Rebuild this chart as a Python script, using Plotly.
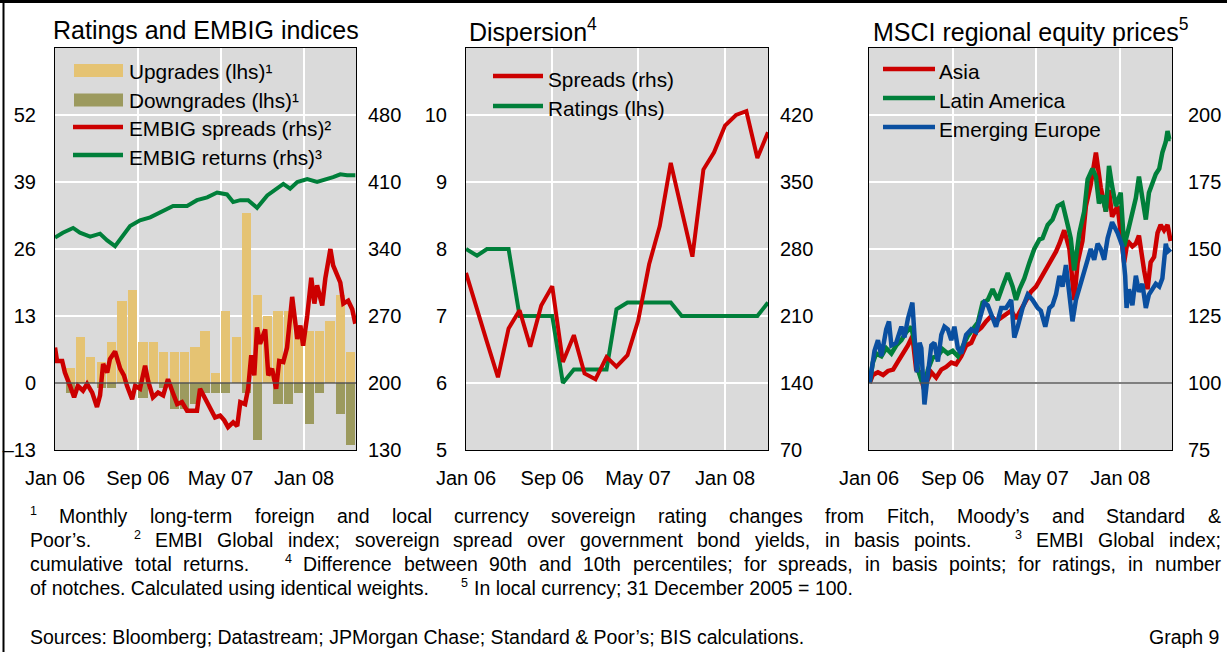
import plotly.graph_objects as go

W, H = 1227, 652
FONT = "Liberation Sans, Arial, sans-serif"
RED = "#CC0000"
GREEN = "#007F3A"
BLUE = "#0A4FA0"
UPC = "#E5C373"
DOWNC = "#9C9A5E"
BG = "#DADADA"

# ---------------- data ----------------
months = ["2006-01", "2006-02", "2006-03", "2006-04", "2006-05", "2006-06", "2006-07", "2006-08",
          "2006-09", "2006-10", "2006-11", "2006-12", "2007-01", "2007-02", "2007-03", "2007-04",
          "2007-05", "2007-06", "2007-07", "2007-08", "2007-09", "2007-10", "2007-11", "2007-12",
          "2008-01", "2008-02", "2008-03", "2008-04", "2008-05"]
upgrades = [0, 3, 9, 5, 4, 8, 16, 18, 8, 8, 6, 6, 6, 7, 10, 2, 14, 9, 33, 17, 13, 14, 14, 11, 10, 10, 12, 17, 6]
downgrades = [0, -2, 0, 0, -1, -1, 0, 0, -3, 0, -1, -5, -5, -4, -2, -2, -2, 0, -2, -11, 0, -4, -4, -2, -8, -2, 0, -6, -12]

spread_dates = ["2006-01-01", "2006-01-07", "2006-01-22", "2006-01-30", "2006-02-14", "2006-02-26", "2006-03-09",
                "2006-03-24", "2006-04-05", "2006-04-20", "2006-05-04", "2006-05-13", "2006-05-22", "2006-06-03",
                "2006-06-11", "2006-06-26", "2006-07-11", "2006-07-22", "2006-07-31", "2006-08-15", "2006-08-24",
                "2006-09-07", "2006-09-22", "2006-10-01", "2006-10-15", "2006-10-30", "2006-11-14", "2006-11-28",
                "2006-12-10", "2006-12-25", "2007-01-08", "2007-01-23", "2007-02-07", "2007-02-21", "2007-03-02",
                "2007-03-17", "2007-04-01", "2007-04-15", "2007-04-30", "2007-05-12", "2007-05-23", "2007-06-07",
                "2007-06-19", "2007-06-28", "2007-07-12", "2007-07-21", "2007-07-30", "2007-08-08", "2007-08-16",
                "2007-08-25", "2007-09-09", "2007-09-18", "2007-09-29", "2007-10-11", "2007-10-20", "2007-11-01",
                "2007-11-12", "2007-11-27", "2007-12-12", "2007-12-21", "2007-12-29", "2008-01-10", "2008-01-22",
                "2008-01-31", "2008-02-08", "2008-02-23", "2008-03-03", "2008-03-12", "2008-03-18", "2008-03-26",
                "2008-04-07", "2008-04-16", "2008-04-25", "2008-05-09", "2008-05-21", "2008-05-30"]
embig_spreads = [237, 223, 223, 211, 197, 185, 197, 192, 199, 190, 175, 187, 220, 211, 225, 233, 215, 208, 197, 183,
                 197, 194, 218, 202, 185, 190, 187, 204, 192, 178, 180, 171, 171, 171, 194, 183, 173, 164, 166, 161,
                 154, 159, 155, 180, 178, 194, 229, 208, 258, 241, 256, 208, 215, 194, 223, 222, 237, 290, 246, 260,
                 239, 270, 310, 283, 302, 281, 309, 331, 340, 323, 312, 305, 283, 286, 277, 262]

return_dates = ["2006-01-01", "2006-01-24", "2006-02-23", "2006-03-15", "2006-04-14", "2006-05-13", "2006-06-03",
                "2006-06-26", "2006-08-09", "2006-09-07", "2006-10-07", "2006-11-14", "2006-12-13", "2007-01-23",
                "2007-02-21", "2007-03-23", "2007-04-21", "2007-05-20", "2007-06-07", "2007-06-28", "2007-07-21",
                "2007-08-16", "2007-09-15", "2007-11-01", "2007-11-21", "2007-12-12", "2008-01-10", "2008-02-08",
                "2008-03-09", "2008-03-26", "2008-04-16", "2008-05-06", "2008-05-30"]
embig_returns = [352, 357, 362, 357, 353, 356, 349, 343, 364, 370, 373, 380, 385, 385, 391, 394, 399, 397, 389, 391,
                 391, 383, 396, 408, 403, 410, 413, 410, 413, 415, 418, 417, 417]

disp_spreads = [255, 216, 183, 146, 197, 216, 178, 221, 241, 162, 190, 150, 144, 167, 157, 169, 205, 264, 304, 370,
                318, 272, 363, 381, 409, 420, 424, 375, 402]
disp_ratings = [8.0, 7.9, 8.0, 8.0, 8.0, 7.0, 7.0, 7.0, 7.0, 6.0, 6.2, 6.2, 6.2, 6.2, 7.1, 7.2, 7.2, 7.2, 7.2, 7.2,
                7.0, 7.0, 7.0, 7.0, 7.0, 7.0, 7.0, 7.0, 7.2]

asia_dates = ["2006-01-03", "2006-01-12", "2006-01-27", "2006-02-11", "2006-02-25", "2006-03-12", "2006-03-26",
              "2006-04-10", "2006-04-24", "2006-05-07", "2006-05-18", "2006-05-28", "2006-06-07", "2006-06-16",
              "2006-07-01", "2006-07-15", "2006-07-30", "2006-08-13", "2006-08-28", "2006-09-11", "2006-09-26",
              "2006-10-10", "2006-10-25", "2006-11-08", "2006-11-23", "2006-12-07", "2006-12-22", "2007-01-05",
              "2007-01-20", "2007-02-03", "2007-02-18", "2007-03-04", "2007-03-18", "2007-04-02", "2007-04-16",
              "2007-05-01", "2007-05-15", "2007-05-30", "2007-06-13", "2007-06-28", "2007-07-08", "2007-07-22",
              "2007-08-06", "2007-08-15", "2007-08-20", "2007-08-30", "2007-09-13", "2007-09-23", "2007-10-07",
              "2007-10-22", "2007-11-05", "2007-11-20", "2007-11-29", "2007-12-08", "2007-12-24", "2008-01-02",
              "2008-01-12", "2008-01-22", "2008-02-05", "2008-02-15", "2008-02-24", "2008-03-10", "2008-03-20",
              "2008-03-29", "2008-04-08", "2008-04-18", "2008-04-27", "2008-05-07", "2008-05-17", "2008-05-26"]
asia = [100, 103, 104, 103, 104.5, 105, 108, 111, 114, 117.5, 105, 104, 99, 100, 104, 102, 105, 106, 107.6, 107,
        110, 114, 115, 119, 120.6, 123, 125, 123, 124.4, 126, 127, 124, 127, 130.6, 134, 136, 139, 142, 145, 149,
        152, 157, 150, 135, 131, 145, 153, 166, 174, 186, 173, 164, 172, 162, 166, 156, 145, 153, 151, 152,
        155, 142, 135, 145, 147, 156, 159, 157, 159, 153]

latam_dates = ["2006-01-03", "2006-01-12", "2006-01-22", "2006-02-06", "2006-02-20", "2006-03-07", "2006-03-21",
               "2006-04-05", "2006-04-19", "2006-05-04", "2006-05-13", "2006-05-23", "2006-06-02", "2006-06-11",
               "2006-06-21", "2006-07-05", "2006-07-20", "2006-08-03", "2006-08-18", "2006-09-01", "2006-09-16",
               "2006-09-30", "2006-10-15", "2006-10-29", "2006-11-13", "2006-11-27", "2006-12-12", "2006-12-26",
               "2007-01-10", "2007-01-24", "2007-02-08", "2007-02-22", "2007-03-04", "2007-03-14", "2007-03-28",
               "2007-04-12", "2007-04-26", "2007-05-11", "2007-05-20", "2007-06-04", "2007-06-18", "2007-07-03",
               "2007-07-17", "2007-08-01", "2007-08-10", "2007-08-20", "2007-09-04", "2007-09-18", "2007-09-28",
               "2007-10-12", "2007-10-22", "2007-10-31", "2007-11-10", "2007-11-20", "2007-11-29", "2007-12-08",
               "2007-12-19", "2008-01-02", "2008-01-12", "2008-01-22", "2008-02-05", "2008-02-15", "2008-02-24",
               "2008-03-05", "2008-03-15", "2008-03-24", "2008-04-03", "2008-04-13", "2008-04-23", "2008-05-02",
               "2008-05-12", "2008-05-17", "2008-05-22", "2008-05-26"]
latam = [100, 107.6, 111, 110, 113, 111, 114, 116, 119, 121, 115, 105, 101, 99, 105, 109.5, 110, 112.6, 111, 112,
         110, 114, 117.5, 120, 122.5, 130, 131, 135, 131, 136, 141, 136, 131, 135, 139, 145, 150, 153.6, 154, 159,
         161, 166, 167, 159, 154, 142, 156, 164, 176, 180, 177, 167, 170, 164, 181, 173.5, 166, 171, 151, 156,
         164, 169, 177, 169, 161, 171, 175, 178, 180, 186, 190, 194, 191, 191]

europe_dates = ["2006-01-03", "2006-01-17", "2006-01-27", "2006-02-06", "2006-02-20", "2006-02-28", "2006-03-07",
                "2006-03-21", "2006-04-05", "2006-04-14", "2006-04-24", "2006-05-07", "2006-05-20", "2006-05-28",
                "2006-06-02", "2006-06-11", "2006-06-18", "2006-07-01", "2006-07-10", "2006-07-20", "2006-07-30",
                "2006-08-08", "2006-08-18", "2006-08-28", "2006-09-06", "2006-09-16", "2006-09-26", "2006-10-10",
                "2006-10-25", "2006-11-08", "2006-11-23", "2006-12-02", "2006-12-12", "2006-12-22", "2007-01-05",
                "2007-01-20", "2007-02-03", "2007-02-18", "2007-02-27", "2007-03-09", "2007-03-23", "2007-04-07",
                "2007-04-21", "2007-05-06", "2007-05-15", "2007-05-28", "2007-06-09", "2007-06-18", "2007-06-28",
                "2007-07-08", "2007-07-17", "2007-07-27", "2007-08-06", "2007-08-15", "2007-08-25", "2007-09-08",
                "2007-09-23", "2007-10-07", "2007-10-17", "2007-10-27", "2007-11-05", "2007-11-15", "2007-11-25",
                "2007-12-08", "2007-12-24", "2008-01-07", "2008-01-15", "2008-01-19", "2008-01-26", "2008-02-05",
                "2008-02-15", "2008-02-24", "2008-03-05", "2008-03-15", "2008-03-24", "2008-04-03", "2008-04-13",
                "2008-04-23", "2008-05-02", "2008-05-12", "2008-05-17", "2008-05-26"]
europe = [100, 112, 116, 110, 120, 123, 114, 115, 121, 117, 124, 130, 104, 115, 113, 92, 100, 114, 115, 108,
          118, 121, 120, 116, 121, 113, 111, 118, 120, 119, 126, 130, 129, 126, 121, 128, 128, 131, 117, 121,
          128, 133, 131, 128, 127, 121, 128, 129, 133, 140, 136, 144, 133, 123, 131, 137, 144, 150, 146, 152,
          150, 146, 154, 160, 156, 151, 140, 128, 135, 129, 140, 134, 137, 128, 133, 135, 137, 136, 139, 152,
          149, 150]

date_ticks = ["2006-01-01", "2006-09-01", "2007-05-01", "2008-01-01"]
date_labels = ["Jan 06", "Sep 06", "May 07", "Jan 08"]
p1_left_ticks = [-13, 0, 13, 26, 39, 52]
p1_left_labels = ["\u201313", "0", "13", "26", "39", "52"]
p1_right_ticks = [130, 200, 270, 340, 410, 480]
p2_left_ticks = [5, 6, 7, 8, 9, 10]
p2_right_ticks = [70, 140, 210, 280, 350, 420]
p3_ticks = [75, 100, 125, 150, 175, 200]


# ---------------- helpers (layout only) ----------------
def fx(x):
    return x / W


def fy(y):
    return 1 - y / H


fig = go.Figure()

# Panel 1
fig.add_trace(go.Bar(x=months, y=upgrades, xperiod="M1", xperiodalignment="middle",
                     width=27 * 86400000, marker=dict(color=UPC, line=dict(width=0)),
                     xaxis="x", yaxis="y", showlegend=False))
fig.add_trace(go.Bar(x=months, y=downgrades, xperiod="M1", xperiodalignment="middle",
                     width=27 * 86400000, marker=dict(color=DOWNC, line=dict(width=0)),
                     xaxis="x", yaxis="y", showlegend=False))
fig.add_trace(go.Scatter(x=return_dates, y=embig_returns, mode="lines", line=dict(color=GREEN, width=4),
                         xaxis="x", yaxis="y2", showlegend=False))
fig.add_trace(go.Scatter(x=spread_dates, y=embig_spreads, mode="lines", line=dict(color=RED, width=4.5),
                         xaxis="x", yaxis="y2", showlegend=False))

# Panel 2
fig.add_trace(go.Scatter(x=months, y=disp_ratings, mode="lines", line=dict(color=GREEN, width=4),
                         xaxis="x2", yaxis="y3", showlegend=False))
fig.add_trace(go.Scatter(x=months, y=disp_spreads, mode="lines", line=dict(color=RED, width=4),
                         xaxis="x2", yaxis="y4", showlegend=False))

# Panel 3
fig.add_trace(go.Scatter(x=asia_dates, y=asia, mode="lines", line=dict(color=RED, width=4.5),
                         xaxis="x3", yaxis="y5", showlegend=False))
fig.add_trace(go.Scatter(x=latam_dates, y=latam, mode="lines", line=dict(color=GREEN, width=4.5),
                         xaxis="x3", yaxis="y5", showlegend=False))
fig.add_trace(go.Scatter(x=europe_dates, y=europe, mode="lines", line=dict(color=BLUE, width=4.5),
                         xaxis="x3", yaxis="y5", showlegend=False))

TICKF = dict(family=FONT, size=20, color="black")
ydom = [fy(450), fy(48)]


def xax(dom, rng, anchor):
    return dict(domain=dom, range=rng, type="date", tickvals=date_ticks, ticktext=date_labels,
                showgrid=True, gridcolor="white", gridwidth=1.5, showline=True, mirror=True,
                linecolor="black", linewidth=1, ticks="", ticklabelstandoff=10, tickfont=TICKF,
                anchor=anchor, zeroline=False, fixedrange=True, automargin=False)


def yax(rng, tv, tt=None, side="left", grid=True, anchor=None, overlaying=None, dom=None, mirror=False):
    d = dict(range=rng, tickvals=tv, ticktext=tt if tt else [str(v) for v in tv], side=side,
             showgrid=grid, gridcolor="white", gridwidth=1.5, zeroline=False, ticks="",
             ticklabelstandoff=14 if side == "left" else 11, tickfont=TICKF, anchor=anchor,
             showline=mirror, mirror=mirror, linecolor="black", linewidth=1, fixedrange=True,
             automargin=False)
    if overlaying:
        d["overlaying"] = overlaying
    if dom:
        d["domain"] = dom
    return d


fig.update_layout(
    width=W, height=H, autosize=False, margin=dict(l=0, r=0, t=0, b=0, pad=0),
    paper_bgcolor="white", plot_bgcolor=BG, barmode="overlay", bargap=0,
    font=dict(family=FONT, color="black"), showlegend=False,
    xaxis=xax([fx(55), fx(356)], ["2006-01-01", "2008-06-01"], "y"),
    xaxis2=xax([fx(466), fx(768)], ["2006-01-01", "2008-05-01"], "y3"),
    xaxis3=xax([fx(869), fx(1172)], ["2006-01-01", "2008-05-30"], "y5"),
    yaxis=yax([-13, 65], p1_left_ticks, p1_left_labels, anchor="x", dom=ydom, mirror=True),
    yaxis2=yax([130, 550], p1_right_ticks, side="right", grid=False, anchor="x", overlaying="y"),
    yaxis3=yax([5, 11], p2_left_ticks, anchor="x2", dom=ydom, mirror=True),
    yaxis4=yax([70, 490], p2_right_ticks, side="right", grid=False, anchor="x2", overlaying="y3"),
    yaxis5=yax([75, 225], p3_ticks, side="right", anchor="x3", dom=ydom, mirror=True),
)

shapes = []
# reference lines
shapes.append(dict(type="line", xref="paper", yref="y", x0=fx(55), x1=fx(356), y0=0, y1=0,
                   line=dict(color="#555555", width=1.5), layer="above"))
shapes.append(dict(type="line", xref="paper", yref="y5", x0=fx(869), x1=fx(1172), y0=100, y1=100,
                   line=dict(color="#555555", width=1.5), layer="above"))
# outer frame
shapes.append(dict(type="line", xref="paper", yref="paper", x0=0, x1=1, y0=fy(1.5), y1=fy(1.5),
                   line=dict(color="black", width=3), layer="below"))
shapes.append(dict(type="line", xref="paper", yref="paper", x0=fx(3.5), x1=fx(3.5), y0=0, y1=1,
                   line=dict(color="black", width=2), layer="below"))

annotations = []


def txt(x, y, s, size=20, anchor="left", yanchor="middle"):
    annotations.append(dict(x=fx(x), y=fy(y), xref="paper", yref="paper", text=s, showarrow=False,
                            xanchor=anchor, yanchor=yanchor, font=dict(family=FONT, size=size, color="black")))


# titles
TS = 25
txt(51, 30, "Ratings and EMBIG indices", TS)
txt(467, 30, "Dispersion<sup>4</sup>", TS)
txt(871, 30, "MSCI regional equity prices<sup>5</sup>", TS)


# legends (drawn manually)
def leg_rect(x0, x1, yc, h, color):
    shapes.append(dict(type="rect", xref="paper", yref="paper", x0=fx(x0), x1=fx(x1),
                       y0=fy(yc + h / 2), y1=fy(yc - h / 2), fillcolor=color, line=dict(width=0)))


def leg_line(x0, x1, yc, color):
    shapes.append(dict(type="line", xref="paper", yref="paper", x0=fx(x0), x1=fx(x1),
                       y0=fy(yc), y1=fy(yc), line=dict(color=color, width=4.5)))


LS = 20.8
leg_rect(74, 123, 70.5, 13, UPC)
leg_rect(74, 123, 100, 13, DOWNC)
leg_line(73, 123, 127, RED)
leg_line(73, 123, 155, GREEN)
txt(127, 71, "Upgrades (lhs)\u00b9", LS)
txt(127, 100.5, "Downgrades (lhs)\u00b9", LS)
txt(127, 129, "EMBIG spreads (rhs)\u00b2", LS)
txt(127, 157.5, "EMBIG returns (rhs)\u00b3", LS)

leg_line(493, 543, 76, RED)
leg_line(493, 543, 106, GREEN)
txt(546, 79.5, "Spreads (rhs)", LS)
txt(546, 108.5, "Ratings (lhs)", LS)

leg_line(883, 935, 69, RED)
leg_line(883, 935, 98, GREEN)
leg_line(883, 935, 127, BLUE)
txt(937, 71.5, "Asia", LS)
txt(937, 100.5, "Latin America", LS)
txt(937, 129.5, "Emerging Europe", LS)

# ---------------- footnotes (justified) ----------------
AW = {" ": 278, "&": 667, "(": 333, ")": 333, ",": 278, "-": 333, ".": 278, ":": 278, ";": 278, "=": 584,
      "\u2019": 222, "'": 191}
for c in "0123456789":
    AW[c] = 556
AW.update({"A": 667, "B": 667, "C": 722, "D": 722, "E": 667, "F": 611, "G": 778, "H": 722, "I": 278, "J": 500,
           "K": 667, "L": 556, "M": 833, "N": 722, "O": 778, "P": 667, "Q": 778, "R": 722, "S": 667, "T": 611,
           "U": 722, "V": 667, "W": 944, "X": 667, "Y": 667, "Z": 611,
           "a": 556, "b": 556, "c": 500, "d": 556, "e": 556, "f": 278, "g": 556, "h": 556, "i": 222, "j": 222,
           "k": 500, "l": 222, "m": 833, "n": 556, "o": 556, "p": 556, "q": 556, "r": 333, "s": 500, "t": 278,
           "u": 556, "v": 500, "w": 722, "x": 500, "y": 500, "z": 500})
FS = 19.5
SUPFS = 12.5


def tok_w(t):
    if t.startswith("^"):
        return sum(AW.get(c, 556) for c in t[1:]) / 1000 * SUPFS
    return sum(AW.get(c, 556) for c in t) / 1000 * FS


def place_line(tokens, x0, x1, yc, justify=True, sup_gap=3):
    widths = [tok_w(t) for t in tokens]
    wts = [sup_gap if tokens[i].startswith("^") else 1 for i in range(1, len(tokens))]
    sp = 0.278 * FS
    natural = sum(widths) + sum(wts) * sp
    extra = (x1 - x0 - natural) / sum(wts) if justify else 0
    x = x0
    for i, t in enumerate(tokens):
        if i > 0:
            x += wts[i - 1] * (sp + extra)
        if t.startswith("^"):
            txt(x - 1, yc - 5, t[1:], SUPFS)
        else:
            txt(x - 1, yc, t.replace("&", "&amp;"), FS)
        x += widths[i]


fn1 = "^1 Monthly long-term foreign and local currency sovereign rating changes from Fitch, Moody\u2019s and Standard &"
fn2 = ("Poor\u2019s. ^2 EMBI Global index; sovereign spread over government bond yields, in basis points. "
       "^3 EMBI Global index;")
fn3 = ("cumulative total returns. ^4 Difference between 90th and 10th percentiles; for spreads, in basis points; "
       "for ratings, in number")
place_line(fn1.split(" "), 29, 1220, 516)
place_line(fn2.split(" "), 29, 1220, 540)
place_line(fn3.split(" "), 29, 1220, 564)
place_line(["of notches. Calculated using identical weights.", "^5",
            "In local currency; 31 December 2005 = 100."], 29, 1220, 588, justify=False, sup_gap=6)

txt(28, 637, "Sources: Bloomberg; Datastream; JPMorgan Chase; Standard &amp; Poor\u2019s; BIS calculations.", FS)
txt(1221, 637, "Graph 9", FS, anchor="right")

fig.update_layout(shapes=shapes, annotations=annotations)
fig.write_html("out.html", config={"displayModeBar": False, "responsive": False},
               post_script="document.body.style.margin='0px';")
